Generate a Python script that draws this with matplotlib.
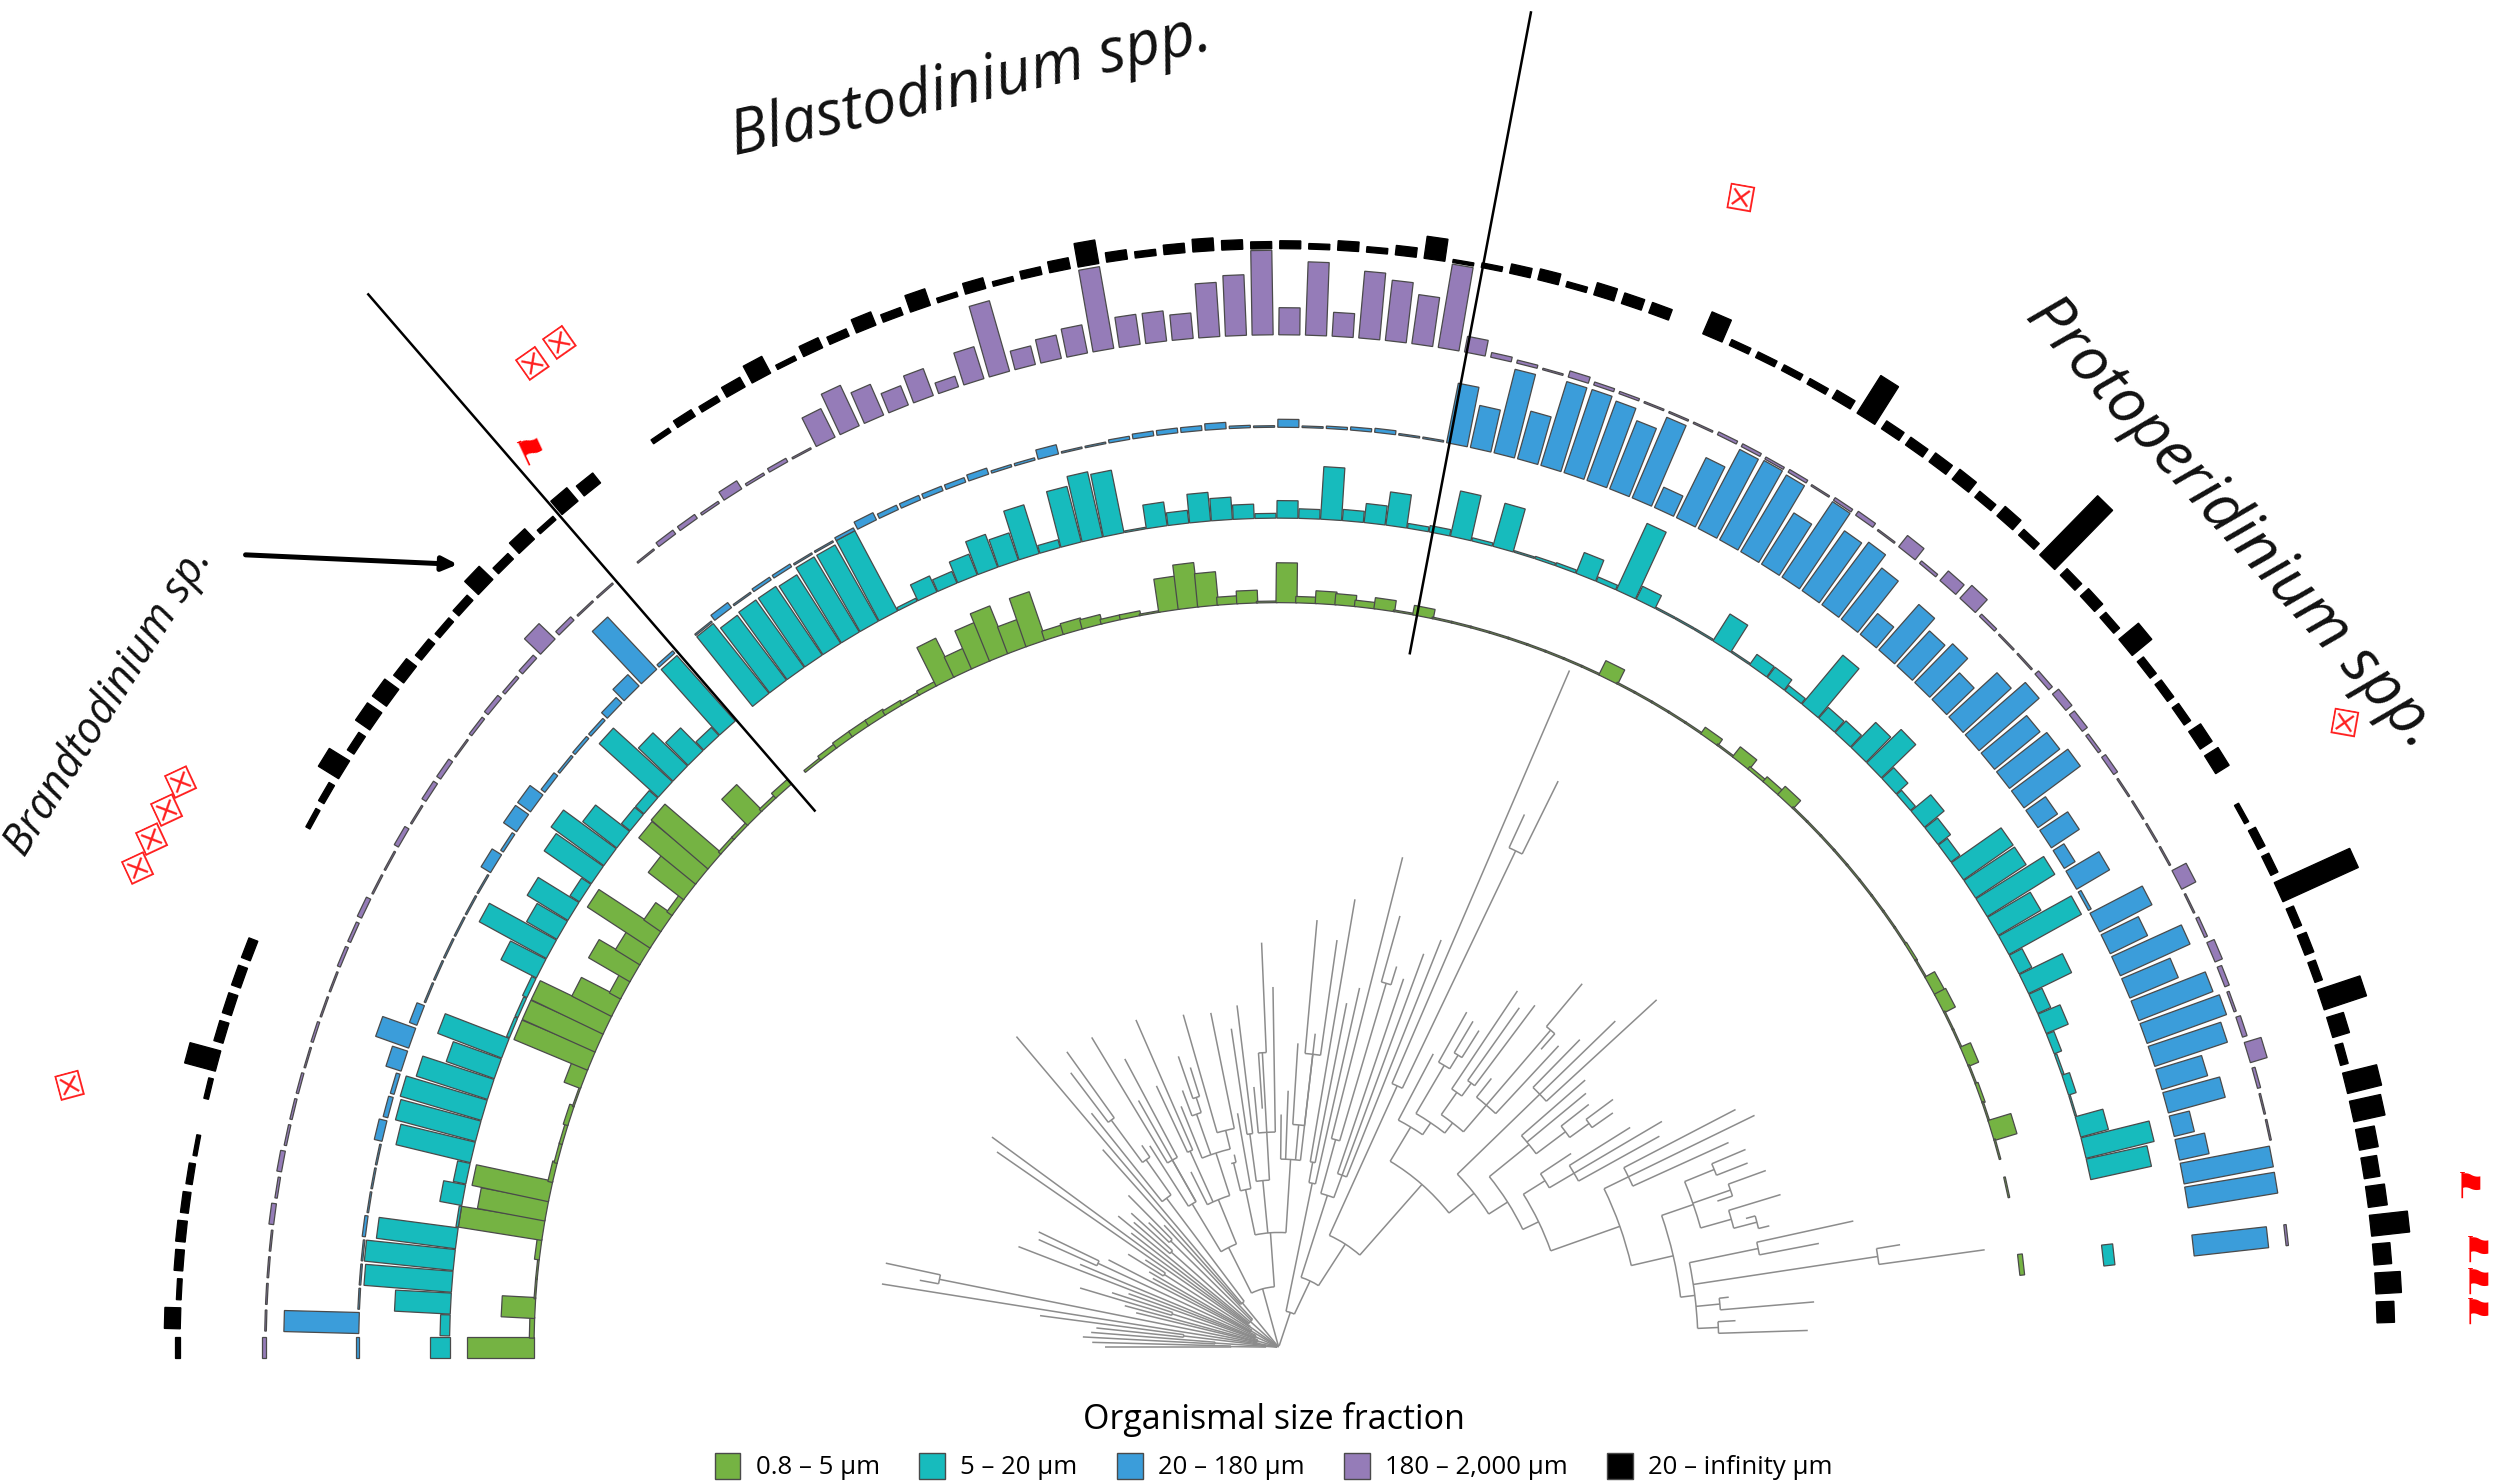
import numpy as np
import matplotlib
matplotlib.use('Agg')
import matplotlib.pyplot as plt
from matplotlib.patches import Rectangle, Patch, Arc
from matplotlib.transforms import Affine2D

plt.rcParams['font.family'] = ['Open Sans', 'DejaVu Sans']

# bar heights per slot, from the left end of the fan (slot 0) to the right end (slot 118); 0 = no bar
green = [42,3,21,1,1,3,53,43,49,3,2,2,3,1,11,50,50,50,28,8,30,18,47,13,4,28,46,47,2,2,23,2,4,0,1.5,3,4,4,4,3,2,3,
         27,14,26,32,18,32,6,7,6,3,3,1,21,28,21,5,8,1,25,4,8,7,4,7,1,6,1,1,1,1,1,1,1,1,1,10,1,1,1,1,1,5,1,8,2,4,7,
         1,1,1,1,1,1,1,1,1,1.5,1,7,8,1,1,7,1,2,1,15,1,0,1,0,0,0,3,0,0,0]
teal = [12,6,35,55,56,50,1.5,14,8,48,52,53,47,32,43,2,2,3,25,48,22,30,7,36,41,27,7,7,50,30,20,7,55,0,56,51,52,52,51,55,55,57,
        2,11,8,14,22,18,32,5,36,42,40,1,15,8,18,14,9,3,11,6,33,7,12,21,3,4,29,2,28,1,1.5,2,14,3,46,9,1,1,1,20,1,8,8,4,40,
        9,10,22,30,10,4,16,10,7,38,38,50,31,52,9,30,9,15,5,1.5,5,1,18,44,39,0,0,0,7,0,0,0]
blue = [1.5,47,1,1,1,2,1,1,1,5,3,2.5,10,22,5,1,1,1,1,1,1,7,2,10,10,3,1.5,2,2,5,10,45,2,0,1,4,1,2,2,1,1,2,5,3,3,3,3,4,1.5,1.5,
        6,1,1,2,3,3,3,4,1.5,1,5,1,1.5,2,2.5,1,1,38,27,54,31,55,55,53,46,55,14,42,56,57,56,38,57,46,49,41,17,38,30,34,24,41,50,37,40,44,
        15,21,8,24,2,37,26,48,33,50,53,48,30,37,13,19,57,57,0,47,0,0,0]
purple = [2.5,1,1,1,1,3,1.5,3,1.5,1.5,1.5,1,1.5,1,1,2,2,3,1,1,3,1,3,3,1,2,3,2,3,14,3,1,1,0,1,3,3,1.5,6,1.5,2.5,1,20,28,21,13,18,7,21,46,12,15,18,
          52,19,19,16,34,38,53,17,46,15,42,38,31,53,10,3,2,1,4,2,1.5,1,1,1,2,2,1.5,2,1,2,3,1,9,2,8,11,2,1,1,3,5,4,2,3,1,1,1,1,10,1,2,5,3,1.5,3,11,2,1,1,0,0,0,1.5,0,0,0]
black = [3,10,3,5.5,6,5,4,2.5,0,3,20,6,6,6,6,0,0,0,0,3,4,15,5,11,11,8,5,4,5,12,5,9,3,11,8,0,0,3,5,4,7,12,3,7,5,9,5,11,3,7,3,5,7,15,6,4,6,8,
         6,4.5,5,3.5,6,3.5,6,14,2,3,6,7,3.5,8,7,7,0,15,4,4,4,4,6,28,6,6,7,8,5,8,5,52,6,7,5,16,5,5,5,9,10,0,3,5,5,52,5,6,5,28,11,5,22,20,12,10,12,24,11,16,11]

size_labels = ['0.8 – 5 µm', '5 – 20 µm', '20 – 180 µm', '180 – 2,000 µm', '20 – infinity µm']
size_colors = ['#75B343', '#17BBBD', '#3B9DDA', '#957CB8', '#000000']
ring_radius = [467, 520, 577, 635, 689]
ring_values = [green, teal, blue, purple, black]

# tree: a tip is (slot, radius), a clade is (radius of its arc, [children])
clade_a = (161, [(78, 208),
                 (170, [(205, [(79, 241), (215, [(80, 238), (81, 235)])]),
                        (178, [(195, [(82, 269), (205, [(83, 261), (84, 268)])]),
                               (200, [(85, 215), (262, [(86, 297), (87, 249)]), (88, 258)])])])])
clade_b = (156, [(228, [(89, 270), (90, 294), (91, 322)]),
                 (170, [(202, [(92, 255), (93, 250), (225, [(94, 247), (240, [(95, 261), (96, 256)])])]),
                        (181, [(197, [(97, 220), (215, [(98, 260), (99, 279), (100, 273)])]),
                               (227, [(244, [(101, 323), (102, 332), (103, 310)]),
                                      (254, [(275, [(295, [(104, 318), (105, 316)]),
                                                    (300, [(106, 325), (107, 290)]),
                                                    (295, [(108, 329), (310, [(109, 304), (110, 317)])])]),
                                             (263, [(307, [(111, 369), (112, 345)]),
                                                    (380, [(113, 395), (114, 447)]),
                                                    (278, [(115, 284), (116, 337)]),
                                                    (276, [(117, 287), (118, 332)])])])])])])])
tree = (1, [
    (8, [(30, [(0, 109), (1, 117)]), (40, [(2, 123), (3, 118)]), (60, [(4, 115), (5, 151)])]),
    (12, [(6, 252), (217, [(7, 229), (8, 252)])]),
    (14, [(9, 92), (10, 100), (70, [(11, 130), (12, 110)]), (13, 100)]),
    (16, [(14, 175), (15, 135), (125, [(16, 165), (17, 167)]), (18, 120)]),
    (20, [(19, 90), (20, 94), (85, [(21, 111), (22, 100)])]),
    (22, [(23, 215), (24, 223)]),
    (24, [(25, 117), (26, 130), (90, [(27, 120), (28, 125)]), (95, [(29, 113), (30, 134)]), (31, 105)]),
    (36, [(32, 166), (33, 255), (117, [(34, 188), (144, [(177, [(35, 216), (36, 228)]), (37, 153)])])]),
    (38, [
        (70, [
            (105, [(38, 150), (40, 178), (135, [(39, 227), (41, 205)])]),
            (100, [(42, 123), (135, [(43, 181), (44, 224)]), (128, [(45, 163), (155, [(46, 172), (165, [(47, 193), (48, 184)])]), (140, [(49, 217), (52, 214)])])]),
        ]),
        (72, [
            (101, [(119, [(50, 119), (51, 124)]), (53, 149)]),
            (105, [(135, [(54, 202), (55, 216)]), (135, [(56, 164), (185, [(57, 150), (58, 254)]), (59, 226)])]),
            (118, [(60, 146), (61, 161), (140, [(62, 191), (64, 198)]), (185, [(63, 269), (65, 258)])]),
        ]),
    ]),
    (23, [
        (105, [(118, [(66, 285), (67, 220)]), (68, 231)]),
        (46, [
            (100, [(135, [(69, 317), (238, [(70, 281), (71, 250)])]),
                   (115, [(72, 244), (73, 263), (74, 275)])]),
            (77, [(180, [(75, 462), (345, [(76, 368), (77, 396)])]),
                  (136, [clade_a, clade_b])]),
        ]),
    ]),
])

# other text
x_marks = [(1091, 126, -10), (44, 682, 15), (335, 228, 35), (352, 215, 35),
           (114, 491, 25), (105, 509, 25), (96, 527, 25), (87, 545, 25), (1470, 455, -10)]
flags = [(334, 282, 25), (1549, 745, 0), (1554, 785, 0), (1554, 805, 0), (1554, 824, 0)]

# figure in picture pixels of the 1568 wide preview, origin on the fan centre
W, H = 1568, 1568 * 1484 / 2500
cx, cy = 802, 845
d_angle = 1.51
bar_width = 13.2

fig = plt.figure(figsize=(25, 14.84), dpi=100)
ax = fig.add_axes([0, 0, 1, 1])
ax.set_xlim(-cx, W - cx)
ax.set_ylim(cy - H, cy)
ax.axis('off')


def slot_angle(i):
    return 180 - d_angle * i


def pol(a, r):
    t = np.deg2rad(a)
    return r * np.cos(t), r * np.sin(t)


for base, vals, col in zip(ring_radius, ring_values, size_colors):
    for i, h in enumerate(vals):
        if h <= 0:
            continue
        rect = Rectangle((base, -bar_width / 2), h, bar_width, facecolor=col,
                         edgecolor='#000000' if col == '#000000' else '#4a4a4a', linewidth=0.9,
                         transform=Affine2D().rotate_deg(slot_angle(i)) + ax.transData)
        ax.add_patch(rect)


def draw_node(node, r_parent):
    # returns the angle of this node and draws its branches
    r, rest = node
    if isinstance(rest, list):
        angles = [draw_node(ch, r) for ch in rest]
        lo, hi = min(angles), max(angles)
        ax.add_patch(Arc((0, 0), 2 * r, 2 * r, theta1=lo, theta2=hi, color='#8c8c8c', lw=1.1))
        a = (lo + hi) / 2
        r_out = r
    else:
        a = slot_angle(r)
        r_out = rest
    x0, y0 = pol(a, r_parent)
    x1, y1 = pol(a, r_out)
    ax.plot([x0, x1], [y0, y1], color='#8c8c8c', lw=1.1, solid_capstyle='butt')
    return a


draw_node(tree, 0)

# clade separators
for a, r0, r1 in [(130.85, 445, 873), (79.3, 443, 852)]:
    x0, y0 = pol(a, r0)
    x1, y1 = pol(a, r1)
    ax.plot([x0, x1], [y0, y1], color='black', lw=1.8)

ax.annotate('', xy=(287 - cx, cy - 354), xytext=(154 - cx, cy - 348),
            arrowprops=dict(arrowstyle='-|>,head_length=0.9,head_width=0.42', color='black', lw=3.6,
                            shrinkA=0, shrinkB=0))

ax.text(609 - cx, cy - 54, 'Blastodinium spp.', fontsize=44.5, style='italic', rotation=12.5,
        ha='center', va='center', color='#111111')
ax.text(1400 - cx, cy - 328, 'Protoperidinium spp.', fontsize=45, style='italic', rotation=-48,
        ha='center', va='center', color='#111111')
ax.text(68 - cx, cy - 440, 'Brandtodinium sp.', fontsize=31, style='italic', rotation=58,
        ha='center', va='center', color='#111111')

for x, y, rot in x_marks:
    ax.text(x - cx, cy - y, '\u2612', family='DejaVu Sans', fontsize=25, color='#ff2020', rotation=rot,
            ha='center', va='center')
for x, y, rot in flags:
    ax.text(x - cx, cy - y, '\u2691', family='DejaVu Sans', fontsize=26, color='#ff0000', rotation=rot,
            ha='center', va='center')

handles = [Patch(facecolor=c, edgecolor='#4a4a4a', label=l) for c, l in zip(size_colors, size_labels)]
leg = ax.legend(handles=handles, title='Organismal size fraction', ncol=5, frameon=False, fontsize=18.5,
                title_fontsize=24.5, loc='lower center', bbox_to_anchor=(0.5095, -0.008), columnspacing=1.53,
                handlelength=1.0, handleheight=1.2, handletextpad=0.6, borderaxespad=0.2, labelspacing=0.3)
leg._legend_box.sep = 11

fig.savefig('out.png', dpi=100)
